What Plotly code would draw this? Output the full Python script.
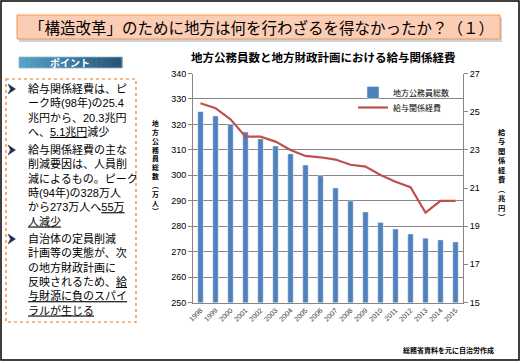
import plotly.graph_objects as go

W, H = 522, 362

years = [str(y) for y in range(1998, 2016)]
staff = [325.0, 323.3, 320.0, 317.0, 314.3, 311.5, 308.4, 304.0, 299.8, 295.0,
         289.9, 285.6, 281.4, 278.9, 276.9, 275.3, 274.6, 273.8]
salary = [25.44, 25.18, 24.60, 23.69, 23.69, 23.43, 22.99, 22.68, 22.61, 22.49,
          22.22, 22.12, 21.68, 21.33, 21.04, 19.71, 20.33, 20.33]
left_ticks = list(range(250, 341, 10))
right_ticks = list(range(15, 28, 2))

JP = "Noto Sans CJK JP"
MIX = "Liberation Sans, Noto Sans CJK JP"


def X(px):
    return px / W


def Y(py):
    return 1 - py / H


fig = go.Figure()
fig.add_trace(go.Bar(x=years, y=staff, name="地方公務員総数", marker_color="#4F81BD",
                     width=0.36, yaxis="y", legend="legend"))
fig.add_trace(go.Scatter(x=years, y=salary, name="給与関係経費", mode="lines",
                         line=dict(color="#C0504D", width=2.2), yaxis="y2", legend="legend2"))

shapes = []
ann = []

# outer frame
shapes.append(dict(type="rect", xref="paper", yref="paper", x0=X(1), x1=X(519), y0=Y(1), y1=Y(360),
                   line=dict(color="black", width=1.5), fillcolor="rgba(0,0,0,0)", layer="below"))
# title banner shadow + box
shapes.append(dict(type="rect", xref="paper", yref="paper", x0=X(19), x1=X(502), y0=Y(17), y1=Y(42),
                   line=dict(width=0), fillcolor="#C9D3DE", layer="below"))
shapes.append(dict(type="rect", xref="paper", yref="paper", x0=X(17), x1=X(500), y0=Y(15), y1=Y(39),
                   line=dict(color="#F79646", width=1), fillcolor="#FBCDB4", layer="below"))
ann.append(dict(text="「構造改革」のために地方は何を行わざるを得なかったか？（１）", x=X(261), y=Y(27.5),
                xref="paper", yref="paper", showarrow=False, xanchor="center", yanchor="middle",
                font=dict(family=JP, size=15.5, color="black")))

# ポイント button (gradient strips)
n = 20
x0b, x1b = 19, 122
c0 = (84, 160, 200)
c1 = (40, 86, 120)
for i in range(n):
    t = i / (n - 1)
    col = "rgb(%d,%d,%d)" % tuple(int(c0[k] + (c1[k] - c0[k]) * t) for k in range(3))
    shapes.append(dict(type="rect", xref="paper", yref="paper",
                       x0=X(x0b + (x1b - x0b) * i / n), x1=X(x0b + (x1b - x0b) * (i + 1) / n + 0.5),
                       y0=Y(57), y1=Y(68), line=dict(width=0), fillcolor=col, layer="below"))
shapes.append(dict(type="rect", xref="paper", yref="paper", x0=X(x0b), x1=X(x1b), y0=Y(57), y1=Y(68),
                   line=dict(color="#9BB7CC", width=0.8), fillcolor="rgba(0,0,0,0)", layer="below"))
ann.append(dict(text="<b>ポイント</b>", x=X(70), y=Y(62.5), xref="paper", yref="paper", showarrow=False,
                xanchor="center", yanchor="middle", font=dict(family=JP, size=10, color="white")))

# dashed box
shapes.append(dict(type="rect", xref="paper", yref="paper", x0=X(6), x1=X(136), y0=Y(79), y1=Y(322),
                   line=dict(color="#E87722", width=1.2, dash="dot"), fillcolor="rgba(0,0,0,0)", layer="below"))

bullets = [
    (89, ["給与関係経費は、ピ", "ーク時(98年)の25.4", "兆円から、20.3兆円", "へ、<u>5.1兆円</u>減少"]),
    (150, ["給与関係経費の主な", "削減要因は、人員削", "減によるもの。ピーク", "時(94年)の328万人",
           "から273万人へ<u>55万</u>", "<u>人減少</u>"]),
    (239, ["自治体の定員削減", "計画等の実態が、次", "の地方財政計画に", "反映されるため、<u>給</u>",
           "<u>与財源に負のスパイ</u>", "<u>ラルが生じる</u>"]),
]
fs = 11
lh = fs * 1.3
for by, ls in bullets:
    cy = by + lh * (len(ls) - 1) / 2
    ann.append(dict(text="<br>".join(ls), x=X(26), y=Y(cy), xref="paper", yref="paper", showarrow=False,
                    xanchor="left", yanchor="middle", align="left",
                    font=dict(family=MIX, size=fs, color="black")))
    path = "M %f %f L %f %f L %f %f L %f %f Z" % (X(8), Y(by - 5), X(15.5), Y(by), X(8), Y(by + 5), X(10.5), Y(by))
    shapes.append(dict(type="path", xref="paper", yref="paper", path=path,
                       fillcolor="#1F2F4F", line=dict(color="#1F2F4F", width=0.5)))

# chart title
ann.append(dict(text="<b>地方公務員数と地方財政計画における給与関係経費</b>", x=X(323), y=Y(57),
                xref="paper", yref="paper", showarrow=False, xanchor="center", yanchor="middle",
                font=dict(family=JP, size=11.5, color="black")))

# vertical axis titles (stacked characters, vertical paren forms)
lt = ["地", "方", "公", "務", "員", "総", "数", "︵", "万", "人", "︶"]
ann.append(dict(text="<b>" + "<br>".join(lt) + "</b>", x=X(155.5), y=Y(166.5), xref="paper", yref="paper",
                showarrow=False, xanchor="center", yanchor="middle",
                font=dict(family=MIX, size=6.8, color="black")))
rt = ["給", "与", "関", "係", "経", "費", "︵", "兆", "円", "︶"]
ann.append(dict(text="<b>" + "<br>".join(rt) + "</b>", x=X(502), y=Y(175), xref="paper", yref="paper",
                showarrow=False, xanchor="center", yanchor="middle",
                font=dict(family=MIX, size=7.3, color="black")))

# source
ann.append(dict(text="<b>総務省資料を元に自治労作成</b>", x=X(448), y=Y(350), xref="paper", yref="paper",
                showarrow=False, xanchor="center", yanchor="middle",
                font=dict(family=JP, size=7, color="black")))

axis_col = "#868686"
leg_common = dict(xanchor="left", yanchor="top", bgcolor="rgba(0,0,0,0)",
                  font=dict(family=JP, size=8, color="black"), itemwidth=30, tracegroupgap=0)
fig.update_layout(
    width=W, height=H,
    margin=dict(l=0, r=0, t=0, b=0),
    paper_bgcolor="white", plot_bgcolor="white",
    showlegend=True,
    legend=dict(x=X(353), y=Y(78), **leg_common),
    legend2=dict(x=X(353), y=Y(93), **leg_common),
    xaxis=dict(domain=[X(193), X(463)], type="category", tickangle=-45, showgrid=False,
               showline=True, linecolor=axis_col, ticks="", tickfont=dict(family="Liberation Sans", size=7, color="#333"),
               automargin=False),
    yaxis=dict(domain=[Y(302.5), Y(73.5)], range=[250, 340], tickvals=left_ticks, showgrid=True,
               gridcolor=axis_col, gridwidth=1, showline=True, linecolor=axis_col, ticks="outside",
               ticklen=4, tickcolor=axis_col, zeroline=False,
               tickfont=dict(family="Liberation Sans", size=9, color="black"), automargin=False),
    yaxis2=dict(overlaying="y", side="right", range=[15, 27], tickvals=right_ticks, showgrid=False,
                showline=True, linecolor=axis_col, ticks="outside", ticklen=4, tickcolor=axis_col,
                zeroline=False, tickfont=dict(family="Liberation Sans", size=9, color="black"),
                automargin=False),
    shapes=shapes,
    annotations=ann,
)

fig.write_html("out.html", config={"displayModeBar": False},
               post_script="document.body.style.margin='0';document.body.style.padding='0';document.body.style.overflow='hidden';")
